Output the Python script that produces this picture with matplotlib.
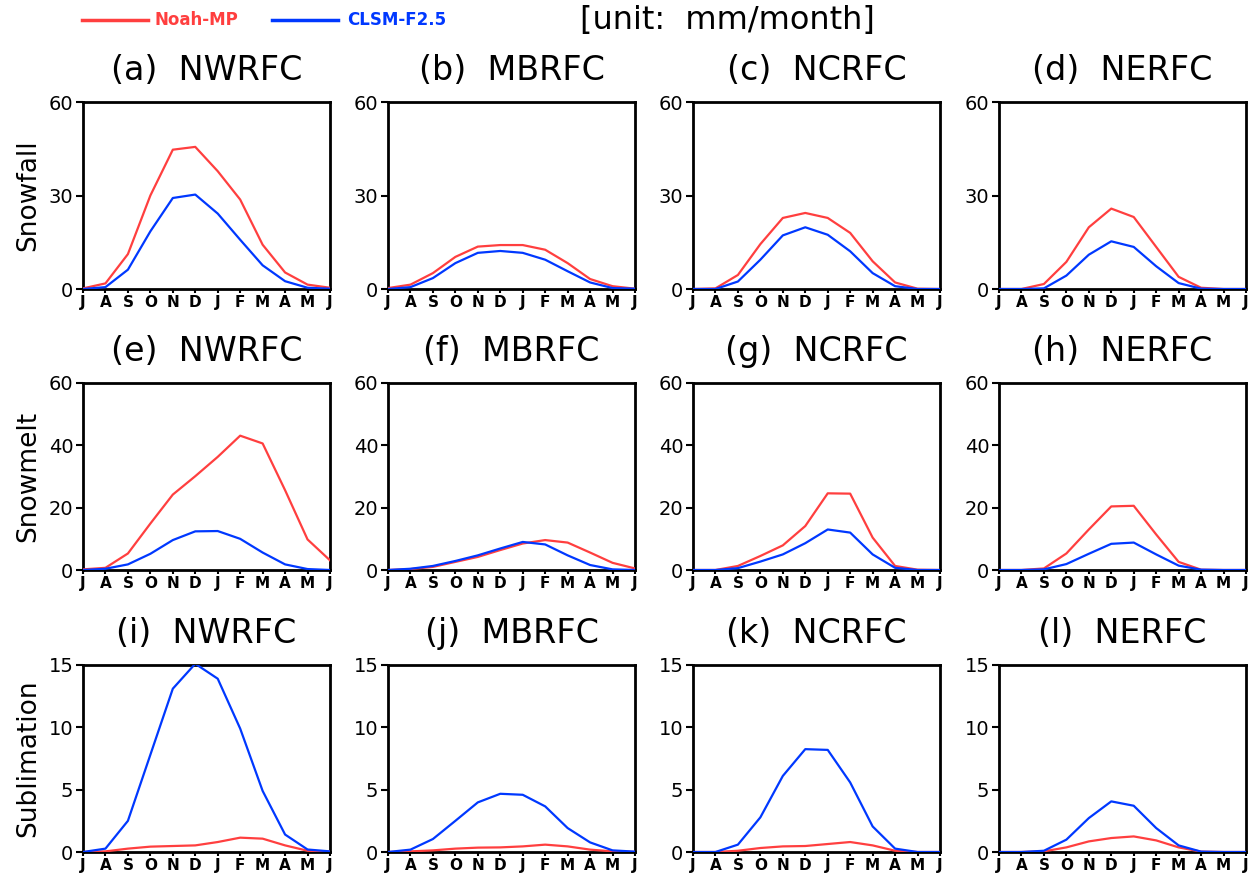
import matplotlib
matplotlib.use("Agg")
import matplotlib.pyplot as plt
from matplotlib.lines import Line2D

# mjeseci od srpnja do lipnja
months = ["J", "A", "S", "O", "N", "D", "J", "F", "M", "A", "M", "J"]
regions = ["NWRFC", "MBRFC", "NCRFC", "NERFC"]
variables = ["Snowfall", "Snowmelt", "Sublimation"]
letters = ["a", "b", "c", "d", "e", "f", "g", "h", "i", "j", "k", "l"]

# Noah-MP
snowfall_noah = [
    [0.2, 1.8, 11.2, 30.0, 44.7, 45.6, 37.8, 28.7, 14.2, 5.3, 1.4, 0.4],
    [0.3, 1.4, 5.1, 10.3, 13.6, 14.1, 14.1, 12.6, 8.3, 3.2, 0.9, 0.1],
    [0.0, 0.2, 4.5, 14.4, 22.8, 24.4, 22.8, 18.0, 8.9, 2.1, 0.1, 0.0],
    [0.0, 0.0, 1.6, 8.7, 19.8, 25.8, 23.1, 13.5, 3.9, 0.4, 0.0, 0.0],
]
snowmelt_noah = [
    [0.2, 0.7, 5.3, 14.9, 24.2, 30.1, 36.3, 43.1, 40.6, 25.6, 9.8, 3.1],
    [0.0, 0.3, 1.0, 2.6, 4.2, 6.4, 8.5, 9.6, 8.8, 5.6, 2.3, 0.5],
    [0.0, 0.0, 1.3, 4.5, 7.9, 14.1, 24.6, 24.5, 10.4, 1.3, 0.1, 0.0],
    [0.0, 0.0, 0.5, 5.3, 13.0, 20.4, 20.6, 11.4, 2.6, 0.1, 0.0, 0.0],
]
sublim_noah = [
    [0.0, 0.05, 0.27, 0.43, 0.48, 0.53, 0.8, 1.15, 1.07, 0.53, 0.1, 0.03],
    [0.0, 0.05, 0.13, 0.27, 0.35, 0.37, 0.45, 0.59, 0.45, 0.19, 0.05, 0.0],
    [0.0, 0.0, 0.1, 0.32, 0.45, 0.48, 0.64, 0.8, 0.53, 0.1, 0.0, 0.0],
    [0.0, 0.0, 0.05, 0.37, 0.85, 1.12, 1.25, 0.93, 0.37, 0.03, 0.0, 0.0],
]

# CLSM-F2.5
snowfall_clsm = [
    [0.0, 0.6, 6.2, 18.5, 29.2, 30.3, 24.2, 15.8, 7.6, 2.5, 0.4, 0.1],
    [0.0, 0.6, 3.5, 8.3, 11.6, 12.2, 11.6, 9.4, 5.7, 2.1, 0.3, 0.1],
    [0.0, 0.0, 2.4, 9.4, 17.2, 19.8, 17.4, 12.1, 5.1, 0.9, 0.0, 0.0],
    [0.0, 0.0, 0.2, 4.3, 11.0, 15.3, 13.5, 7.3, 1.9, 0.1, 0.0, 0.0],
]
snowmelt_clsm = [
    [0.0, 0.4, 1.8, 5.2, 9.6, 12.4, 12.5, 10.0, 5.6, 1.8, 0.3, 0.0],
    [0.0, 0.4, 1.3, 2.9, 4.7, 6.9, 9.0, 8.2, 4.7, 1.6, 0.2, 0.0],
    [0.0, 0.0, 0.6, 2.7, 5.0, 8.6, 13.0, 12.0, 5.0, 0.7, 0.0, 0.0],
    [0.0, 0.0, 0.2, 1.9, 5.2, 8.4, 8.8, 5.0, 1.4, 0.1, 0.0, 0.0],
]
sublim_clsm = [
    [0.0, 0.27, 2.5, 7.8, 13.1, 15.1, 13.9, 9.9, 4.9, 1.4, 0.2, 0.05],
    [0.0, 0.19, 1.04, 2.5, 3.98, 4.67, 4.59, 3.66, 1.92, 0.77, 0.13, 0.03],
    [0.0, 0.0, 0.59, 2.78, 6.1, 8.25, 8.19, 5.58, 2.05, 0.27, 0.0, 0.0],
    [0.0, 0.0, 0.1, 0.99, 2.72, 4.06, 3.71, 1.92, 0.53, 0.03, 0.0, 0.0],
]

noah = [snowfall_noah, snowmelt_noah, sublim_noah]
clsm = [snowfall_clsm, snowmelt_clsm, sublim_clsm]
yticks = [[0, 30, 60], [0, 20, 40, 60], [0, 5, 10, 15]]

RED = "#ff3f3f"
BLUE = "#0038ff"

W, H = 1257, 877
fig = plt.figure(figsize=(W / 100, H / 100), dpi=100)

lefts = [83, 388, 693, 999]
tops = [102, 383, 665]
aw, ah = 247, 187

for r in range(3):
    for c in range(4):
        ax = fig.add_axes([lefts[c] / W, 1 - (tops[r] + ah) / H, aw / W, ah / H])
        x = range(len(months))
        ax.plot(x, noah[r][c], color=RED, lw=1.6, zorder=3)
        ax.plot(x, clsm[r][c], color=BLUE, lw=1.6, zorder=3)
        ax.set_xlim(0, 11)
        ax.set_ylim(yticks[r][0], yticks[r][-1])
        ax.set_xticks(list(x))
        ax.set_xticklabels(months, fontsize=11, fontweight="bold")
        ax.set_yticks(yticks[r])
        ax.tick_params(axis="y", labelsize=14, length=5, width=1.5, pad=2)
        ax.tick_params(axis="x", length=3, width=1.5, pad=1)
        for s in ax.spines.values():
            s.set_linewidth(2)
        ax.set_title("(%s)  %s" % (letters[r * 4 + c], regions[c]), fontsize=24, pad=16)
        if c == 0:
            ax.set_ylabel(variables[r], fontsize=19)
            ax.yaxis.set_label_coords(-42 / aw, 0.5)

# legenda i jedinica
fig.add_artist(Line2D([82 / W, 148 / W], [1 - 20 / H] * 2, color=RED, lw=2.5))
fig.text(155 / W, 1 - 20 / H, "Noah-MP", color=RED, fontsize=12, va="center", fontweight="bold")
fig.add_artist(Line2D([272 / W, 338 / W], [1 - 20 / H] * 2, color=BLUE, lw=2.5))
fig.text(347 / W, 1 - 20 / H, "CLSM-F2.5", color=BLUE, fontsize=12, va="center", fontweight="bold")
fig.text(727 / W, 1 - 21 / H, "[unit:  mm/month]", fontsize=23, ha="center", va="center")

fig.savefig("out.png", dpi=100)
